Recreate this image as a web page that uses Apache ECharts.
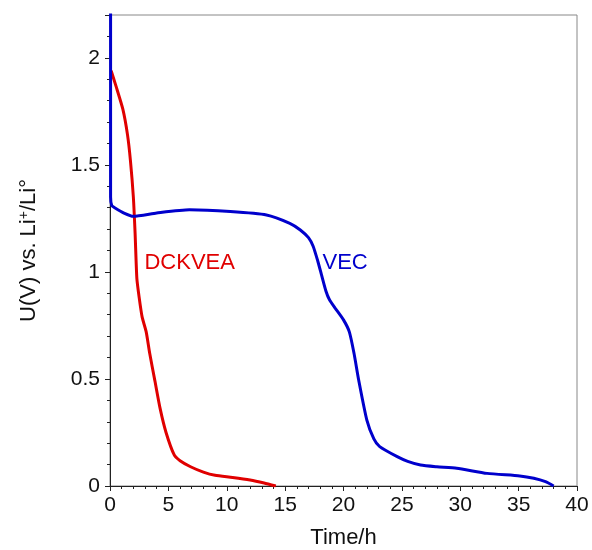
<!DOCTYPE html>
<html>
<head>
<meta charset="utf-8">
<script src="https://cdn.jsdelivr.net/npm/echarts@6/dist/echarts.min.js"></script>
<style>
html, body { margin: 0; padding: 0; background: #fff; }
#chart { width: 592px; height: 550px; }
</style>
</head>
<body>
<div id="chart"></div>
<script>
// DCKVEA discharge curve
var dckTime = [0.1, 0.5, 1.1, 1.5, 1.75, 2.0, 2.15, 2.3, 2.5, 2.75, 3.1, 3.4, 3.85, 4.3, 4.8, 5.5, 6.0, 6.9, 8.0, 9.0, 10.5, 12.0, 13.2, 14.2];
var dckVolt = [1.94, 1.87, 1.76, 1.64, 1.52, 1.35, 1.18, 0.97, 0.88, 0.79, 0.72, 0.62, 0.49, 0.36, 0.25, 0.145, 0.118, 0.09, 0.065, 0.05, 0.04, 0.028, 0.014, 0.0];
// VEC discharge curve
var vecTime = [0.05, 0.05, 0.15, 0.4, 1.2, 2.0, 4.0, 6.8, 10.3, 13.4, 15.4, 16.3, 17.0, 17.4, 17.8, 18.1, 18.5, 18.8, 19.3, 20.0, 20.5, 20.9, 21.3, 22.0, 22.6, 23.1, 24.6, 25.5, 26.6, 28.0, 29.7, 32.3, 35.1, 36.3, 37.3, 38.0];
var vecVolt = [2.3, 1.35, 1.31, 1.30, 1.275, 1.26, 1.275, 1.29, 1.282, 1.266, 1.227, 1.196, 1.16, 1.12, 1.05, 0.99, 0.91, 0.87, 0.83, 0.776, 0.72, 0.62, 0.495, 0.308, 0.22, 0.184, 0.137, 0.115, 0.098, 0.09, 0.083, 0.059, 0.047, 0.036, 0.02, 0.0];
var xTicks = [0, 5, 10, 15, 20, 25, 30, 35, 40];
var yTicks = [0, 0.5, 1, 1.5, 2];

function pairs(xs, ys) {
    return xs.map(function (x, i) { return [x, ys[i]]; });
}

var myChart = echarts.init(document.getElementById('chart'));
var axisColor = '#222';
var font = 'Liberation Sans, Arial, sans-serif';

var option = {
    animation: false,
    grid: {
        left: 110,
        right: 15,
        top: 15,
        bottom: 64,
        show: true,
        borderColor: '#888',
        borderWidth: 1,
        outerBoundsMode: 'none'
    },
    xAxis: {
        type: 'value',
        min: 0,
        max: 40,
        interval: 5,
        name: 'Time/h',
        nameLocation: 'middle',
        nameGap: 41,
        nameTextStyle: { fontSize: 22, color: '#111', fontFamily: font },
        axisLine: { onZero: false, lineStyle: { color: axisColor, width: 1 } },
        axisTick: { show: true, inside: false, length: 5, lineStyle: { color: axisColor } },
        minorTick: { show: true, splitNumber: 5, length: 3, lineStyle: { color: axisColor } },
        axisLabel: {
            fontSize: 21, color: '#111', fontFamily: font, margin: 9,
            formatter: function (v) { return xTicks.indexOf(v) >= 0 ? String(v) : ''; }
        },
        splitLine: { show: false }
    },
    yAxis: {
        type: 'value',
        min: 0,
        max: 2.2,
        interval: 0.5,
        name: '{a|U(V) vs. Li}{s|+}{a|/Li°}',
        nameLocation: 'middle',
        nameGap: 70,
        nameRotate: 90,
        nameTextStyle: {
            rich: {
                a: { fontSize: 22, color: '#111', fontFamily: font },
                s: { fontSize: 14, color: '#111', fontFamily: font, verticalAlign: 'top', padding: [0, 0, 9, 0] }
            }
        },
        axisLine: { onZero: false, lineStyle: { color: axisColor, width: 1 } },
        axisTick: { show: true, inside: false, length: 5, lineStyle: { color: axisColor } },
        minorTick: { show: true, splitNumber: 5, length: 3, lineStyle: { color: axisColor } },
        axisLabel: {
            fontSize: 21, color: '#111', fontFamily: font, margin: 10,
            formatter: function (v) { return yTicks.indexOf(v) >= 0 ? String(v) : ''; }
        },
        splitLine: { show: false }
    },
    series: [
        {
            name: 'DCKVEA',
            type: 'line',
            data: pairs(dckTime, dckVolt),
            showSymbol: false,
            smooth: 0.2,
            lineStyle: { color: '#e00000', width: 3 },
            itemStyle: { color: '#e00000' },
            markPoint: {
                symbol: 'circle', symbolSize: 0,
                label: { show: true, formatter: 'DCKVEA', position: 'right', distance: 0, fontSize: 22, color: '#e00000', fontFamily: font },
                data: [{ coord: [2.95, 1.04] }]
            }
        },
        {
            name: 'VEC',
            type: 'line',
            data: pairs(vecTime, vecVolt),
            showSymbol: false,
            smooth: 0.2,
            lineStyle: { color: '#0000cc', width: 3 },
            itemStyle: { color: '#0000cc' },
            markPoint: {
                symbol: 'circle', symbolSize: 0,
                label: { show: true, formatter: 'VEC', position: 'right', distance: 0, fontSize: 22, color: '#0000cc', fontFamily: font },
                data: [{ coord: [18.2, 1.04] }]
            }
        }
    ]
};
myChart.setOption(option);
window.addEventListener('resize', function () {
    myChart.resize();
});
</script>
</body>
</html>
